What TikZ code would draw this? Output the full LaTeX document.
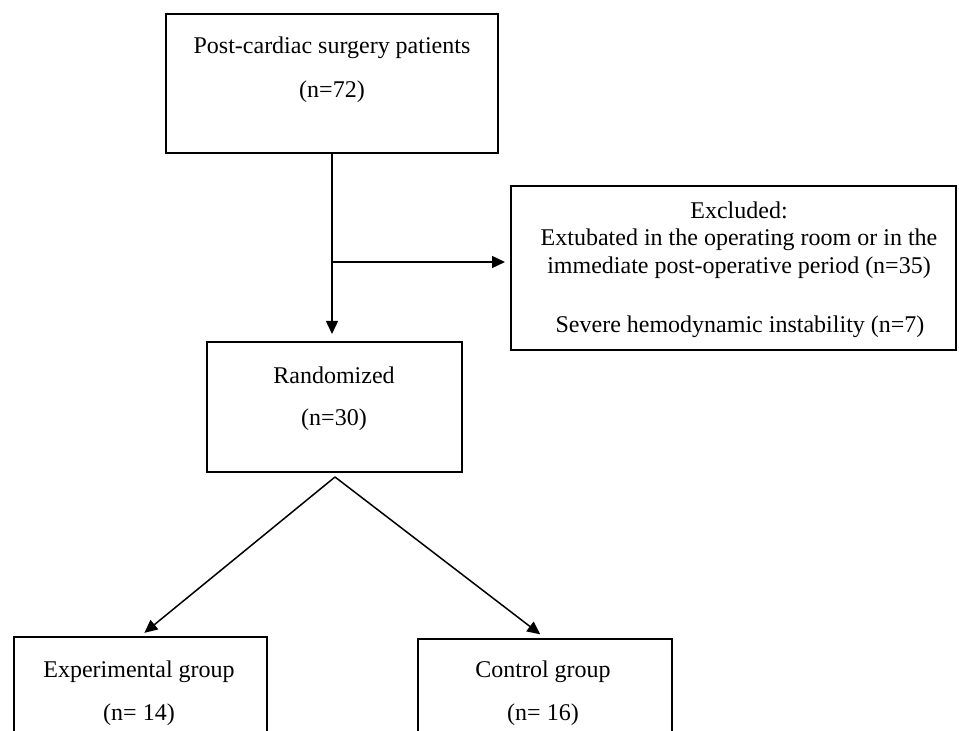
\documentclass[tikz,border=0pt]{standalone}
\usepackage{fontspec}
\setmainfont{Liberation Serif}
\usepackage{tikz}
\usetikzlibrary{arrows.meta}
\tikzset{box/.style={draw, line width=1pt, inner sep=0pt},
 lbl/.style={inner sep=0pt, font=\fontsize{12}{14}\selectfont},
 flow/.style={draw, line width=0.75pt, -{Triangle[length=6.5pt,width=6pt]}, shorten >=1.5pt},
 }

\begin{document}
\begin{tikzpicture}[x=0.5pt, y=-0.5pt]
        \useasboundingbox (0,0) rectangle (959,731);
        \clip (0,0) rectangle (959,731);
        \fill[white] (0,0) rectangle (959,731);
        % boxes
        \node[box, minimum width=166pt, minimum height=69.5pt] (patients) at (332,83.5) {};
        \node[box, minimum width=222.5pt, minimum height=82pt] (excl) at (733.5,268) {};
        \node[box, minimum width=127.5pt, minimum height=65pt] (rand) at (334.5,407) {};
        \node[box, minimum width=126.5pt, minimum height=71.5pt] (exp) at (140.5,708.5) {};
        \node[box, minimum width=127pt, minimum height=70.5pt] (ctrl) at (545,709.5) {};
        % texts
        \node[lbl] (patientsA) at (332,48) {Post-cardiac surgery patients};
        \node[lbl] (patientsB) at (332,92) {(n=72)};
        \node[lbl] (exclA) at (739,210) {Excluded:};
        \node[lbl] (exclB) at (739,240) {Extubated in the operating room or in the};
        \node[lbl] (exclC) at (739,268) {immediate post-operative period (n=35)};
        \node[lbl] (exclD) at (740,327) {Severe hemodynamic instability (n=7)};
        \node[lbl] (randA) at (334,375) {Randomized};
        \node[lbl] (randB) at (334,420) {(n=30)};
        \node[lbl] (expA) at (139,672) {Experimental group};
        \node[lbl] (expB) at (139,715) {(n= 14)};
        \node[lbl] (ctrlA) at (543,672) {Control group};
        \node[lbl] (ctrlB) at (543,715) {(n= 16)};
        % connectors
        \coordinate (split) at (333,262);
        \coordinate (fork) at (335,477);
        \draw[flow, shorten >=3.5pt] (patients.south) -- (patients.south |- rand.north);
        \draw[flow, shorten >=2.5pt] (split) -- (split -| excl.west);
        \draw[flow, shorten >=2.5pt] (fork) -- (exp.north);
        \draw[flow, shorten >=3pt] (fork) -- (ctrl.north);
    \end{tikzpicture}
\end{document}
